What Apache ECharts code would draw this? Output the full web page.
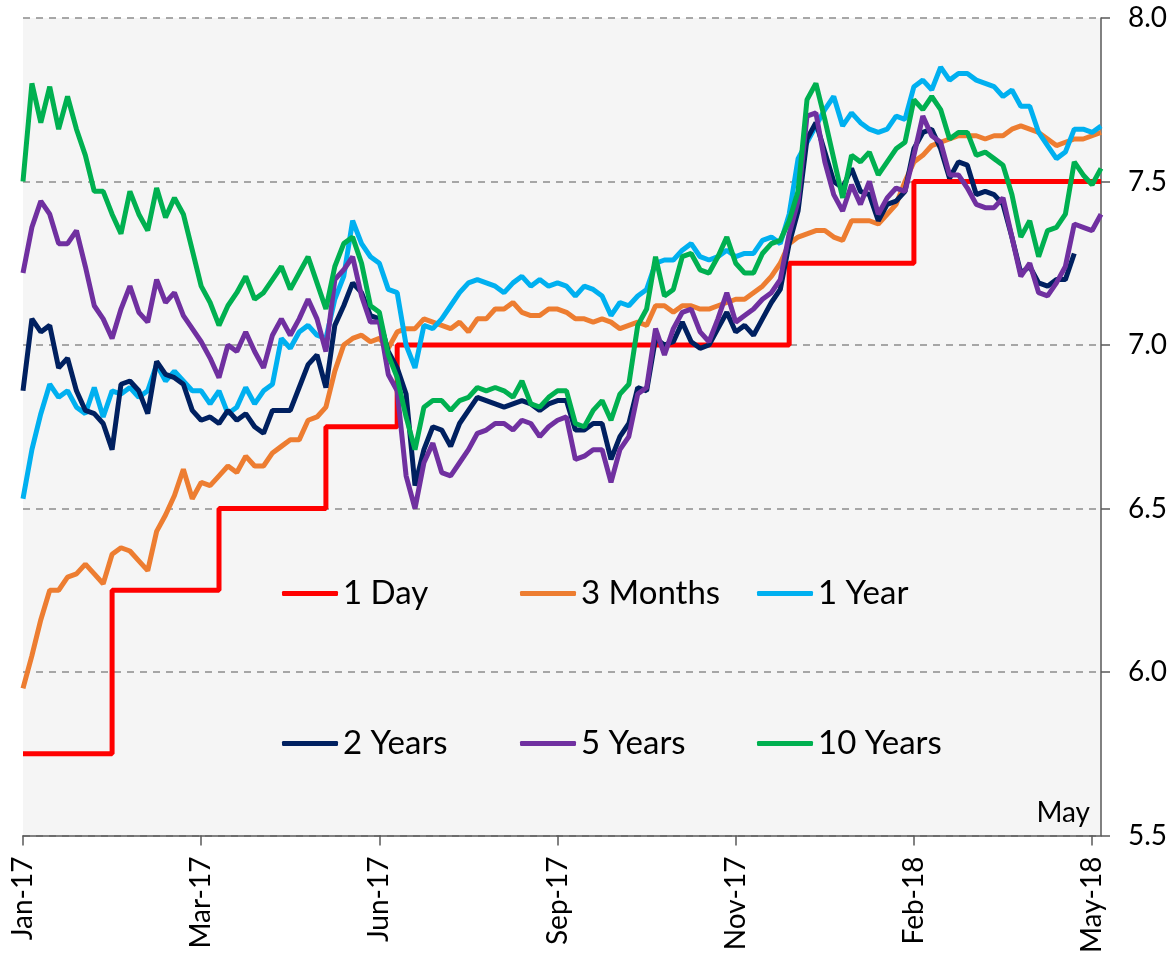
<!DOCTYPE html>
<html>
<head>
<meta charset="utf-8">
<script src="https://cdn.jsdelivr.net/npm/echarts@6/dist/echarts.min.js"></script>
<style>
  html, body { margin: 0; padding: 0; background: #fff; }
  #chart { width: 1173px; height: 956px; }
</style>
</head>
<body>
<div id="chart"></div>
<script>
// x axis: one category per sample, labelled at a few of them
const tickLabels = ["Jan-17", "Mar-17", "Jun-17", "Sep-17", "Nov-17", "Feb-18", "May-18"];
const tickIndex = [0, 20, 40, 60, 80, 100, 120];
const pointCount = 122;

const yTicks = [5.5, 6.0, 6.5, 7.0, 7.5, 8.0];

const seriesNames = ["1 Day", "3 Months", "1 Year", "2 Years", "5 Years", "10 Years"];

const oneDay = [
  5.75, 5.75, 5.75, 5.75, 5.75, 5.75, 5.75, 5.75, 5.75, 5.75,
  6.25, 6.25, 6.25, 6.25, 6.25, 6.25, 6.25, 6.25, 6.25, 6.25,
  6.25, 6.25, 6.5, 6.5, 6.5, 6.5, 6.5, 6.5, 6.5, 6.5,
  6.5, 6.5, 6.5, 6.5, 6.75, 6.75, 6.75, 6.75, 6.75, 6.75,
  6.75, 6.75, 7.0, 7.0, 7.0, 7.0, 7.0, 7.0, 7.0, 7.0,
  7.0, 7.0, 7.0, 7.0, 7.0, 7.0, 7.0, 7.0, 7.0, 7.0,
  7.0, 7.0, 7.0, 7.0, 7.0, 7.0, 7.0, 7.0, 7.0, 7.0,
  7.0, 7.0, 7.0, 7.0, 7.0, 7.0, 7.0, 7.0, 7.0, 7.0,
  7.0, 7.0, 7.0, 7.0, 7.0, 7.0, 7.25, 7.25, 7.25, 7.25,
  7.25, 7.25, 7.25, 7.25, 7.25, 7.25, 7.25, 7.25, 7.25, 7.25,
  7.5, 7.5, 7.5, 7.5, 7.5, 7.5, 7.5, 7.5, 7.5, 7.5,
  7.5, 7.5, 7.5, 7.5, 7.5, 7.5, 7.5, 7.5, 7.5, 7.5,
  7.5, 7.5
];

const threeMonths = [
  5.95, 6.05, 6.16, 6.25, 6.25, 6.29, 6.30, 6.33, 6.30, 6.27,
  6.36, 6.38, 6.37, 6.34, 6.31, 6.43, 6.48, 6.54, 6.62, 6.53,
  6.58, 6.57, 6.60, 6.63, 6.61, 6.66, 6.63, 6.63, 6.67, 6.69,
  6.71, 6.71, 6.77, 6.78, 6.81, 6.92, 7.00, 7.02, 7.03, 7.01,
  7.02, 6.99, 7.04, 7.05, 7.05, 7.08, 7.07, 7.06, 7.05, 7.07,
  7.04, 7.08, 7.08, 7.11, 7.11, 7.13, 7.10, 7.09, 7.09, 7.11,
  7.11, 7.10, 7.08, 7.08, 7.07, 7.08, 7.07, 7.05, 7.06, 7.07,
  7.06, 7.12, 7.12, 7.10, 7.12, 7.12, 7.11, 7.11, 7.12, 7.13,
  7.14, 7.14, 7.16, 7.18, 7.21, 7.25, 7.31, 7.33, 7.34, 7.35,
  7.35, 7.33, 7.32, 7.38, 7.38, 7.38, 7.37, 7.40, 7.43, 7.50,
  7.56, 7.58, 7.61, 7.62, 7.63, 7.64, 7.64, 7.64, 7.63, 7.64,
  7.64, 7.66, 7.67, 7.66, 7.65, 7.63, 7.61, 7.62, 7.63, 7.63,
  7.64, 7.65
];

const oneYear = [
  6.53, 6.68, 6.79, 6.88, 6.84, 6.86, 6.81, 6.79, 6.87, 6.78,
  6.86, 6.85, 6.87, 6.84, 6.86, 6.94, 6.89, 6.92, 6.89, 6.86,
  6.86, 6.82, 6.86, 6.79, 6.81, 6.87, 6.82, 6.86, 6.88, 7.02,
  6.99, 7.04, 7.06, 7.03, 7.02, 7.14, 7.21, 7.38, 7.31, 7.27,
  7.25, 7.17, 7.16, 7.00, 6.93, 7.06, 7.05, 7.08, 7.12, 7.16,
  7.19, 7.20, 7.19, 7.18, 7.16, 7.19, 7.21, 7.18, 7.20, 7.18,
  7.19, 7.18, 7.15, 7.18, 7.17, 7.15, 7.09, 7.13, 7.12, 7.15,
  7.17, 7.25, 7.26, 7.26, 7.29, 7.31, 7.27, 7.26, 7.27, 7.29,
  7.27, 7.28, 7.28, 7.32, 7.33, 7.31, 7.40, 7.57, 7.62, 7.67,
  7.72, 7.76, 7.67, 7.71, 7.68, 7.66, 7.65, 7.66, 7.70, 7.69,
  7.79, 7.81, 7.78, 7.85, 7.81, 7.83, 7.83, 7.81, 7.80, 7.79,
  7.76, 7.78, 7.73, 7.73, 7.65, 7.61, 7.57, 7.59, 7.66, 7.66,
  7.65, 7.67
];

const twoYears = [
  6.86, 7.08, 7.04, 7.06, 6.93, 6.96, 6.86, 6.80, 6.79, 6.76,
  6.68, 6.88, 6.89, 6.86, 6.79, 6.95, 6.91, 6.90, 6.88, 6.80,
  6.77, 6.78, 6.76, 6.80, 6.77, 6.79, 6.75, 6.73, 6.80, 6.80,
  6.80, 6.87, 6.94, 6.97, 6.87, 7.06, 7.12, 7.19, 7.16, 7.09,
  7.08, 6.98, 6.93, 6.85, 6.57, 6.68, 6.75, 6.74, 6.69, 6.76,
  6.80, 6.84, 6.83, 6.82, 6.81, 6.82, 6.83, 6.82, 6.80, 6.82,
  6.83, 6.83, 6.74, 6.74, 6.76, 6.76, 6.65, 6.72, 6.76, 6.87,
  6.86, 7.02, 7.00, 7.01, 7.07, 7.01, 6.99, 7.00, 7.05, 7.10,
  7.04, 7.06, 7.03, 7.08, 7.13, 7.17, 7.31, 7.41, 7.63, 7.68,
  7.59, 7.50, 7.48, 7.54, 7.47, 7.46, 7.38, 7.43, 7.44, 7.47,
  7.60, 7.65, 7.66, 7.60, 7.51, 7.56, 7.55, 7.46, 7.47, 7.46,
  7.43, 7.33, 7.22, 7.24, 7.19, 7.18, 7.20, 7.20, 7.28, null,
  null, null
];

const fiveYears = [
  7.22, 7.36, 7.44, 7.40, 7.31, 7.31, 7.35, 7.24, 7.12, 7.08,
  7.02, 7.11, 7.18, 7.10, 7.07, 7.20, 7.13, 7.16, 7.09, 7.05,
  7.01, 6.96, 6.90, 7.00, 6.98, 7.04, 6.98, 6.93, 7.03, 7.08,
  7.03, 7.08, 7.14, 7.08, 6.98, 7.20, 7.23, 7.27, 7.15, 7.07,
  7.07, 6.91, 6.86, 6.60, 6.50, 6.64, 6.70, 6.61, 6.60, 6.64,
  6.68, 6.73, 6.74, 6.76, 6.76, 6.74, 6.77, 6.76, 6.72, 6.75,
  6.77, 6.78, 6.65, 6.66, 6.68, 6.68, 6.58, 6.68, 6.72, 6.85,
  6.87, 7.05, 6.97, 7.05, 7.10, 7.11, 7.04, 7.01, 7.08, 7.16,
  7.07, 7.09, 7.11, 7.14, 7.16, 7.20, 7.34, 7.44, 7.70, 7.71,
  7.56, 7.46, 7.41, 7.49, 7.43, 7.50, 7.40, 7.45, 7.48, 7.47,
  7.58, 7.70, 7.64, 7.62, 7.52, 7.52, 7.48, 7.43, 7.42, 7.42,
  7.45, 7.33, 7.21, 7.25, 7.16, 7.15, 7.19, 7.24, 7.37, 7.36,
  7.35, 7.40
];

const tenYears = [
  7.50, 7.80, 7.68, 7.79, 7.66, 7.76, 7.66, 7.58, 7.47, 7.47,
  7.40, 7.34, 7.47, 7.40, 7.35, 7.48, 7.39, 7.45, 7.40, 7.29,
  7.18, 7.13, 7.06, 7.12, 7.16, 7.21, 7.14, 7.16, 7.20, 7.24,
  7.17, 7.22, 7.27, 7.19, 7.11, 7.24, 7.31, 7.33, 7.25, 7.12,
  7.10, 6.97, 6.90, 6.78, 6.68, 6.81, 6.83, 6.83, 6.80, 6.83,
  6.84, 6.87, 6.86, 6.87, 6.86, 6.84, 6.89, 6.82, 6.81, 6.84,
  6.86, 6.86, 6.76, 6.75, 6.80, 6.83, 6.77, 6.85, 6.88, 7.06,
  7.11, 7.27, 7.15, 7.17, 7.27, 7.28, 7.23, 7.22, 7.27, 7.33,
  7.25, 7.22, 7.22, 7.28, 7.31, 7.32, 7.38, 7.47, 7.75, 7.80,
  7.69, 7.57, 7.45, 7.58, 7.56, 7.59, 7.52, 7.56, 7.60, 7.62,
  7.75, 7.72, 7.76, 7.72, 7.63, 7.65, 7.65, 7.58, 7.59, 7.57,
  7.55, 7.46, 7.33, 7.38, 7.27, 7.35, 7.36, 7.40, 7.56, 7.52,
  7.49, 7.54
];

const seriesValues = [oneDay, threeMonths, oneYear, twoYears, fiveYears, tenYears];
const seriesColors = ["#FF0000", "#ED7D31", "#00B0F0", "#002060", "#7030A0", "#00B050"];

const FONT = "Lato";

const categories = [];
for (let i = 0; i < pointCount; i++) categories.push(String(i));
const labelAt = {};
tickIndex.forEach((idx, k) => { labelAt[idx] = tickLabels[k]; });
const isTick = (i) => labelAt[i] !== undefined;

// legend: two rows of three, fixed columns
const legendCols = [282, 520, 757];
const legendRows = [577, 727];
const legends = seriesNames.map((name, k) => ({
  data: [name],
  left: legendCols[k % 3],
  top: legendRows[Math.floor(k / 3)],
  padding: 0,
  icon: "roundRect",
  itemWidth: 56,
  itemHeight: 5,
  itemGap: 0,
  selectedMode: false,
  textStyle: { fontFamily: FONT, fontSize: 33, color: "#000" },
}));

const chart = echarts.init(document.getElementById("chart"));
chart.setOption({
  animation: false,
  backgroundColor: "#ffffff",
  legend: legends,
  grid: {
    left: 23,
    right: 72,
    top: 18,
    bottom: 120,
    show: true,
    backgroundColor: "#F5F5F5",
    borderWidth: 0,
  },
  xAxis: {
    type: "category",
    data: categories,
    boundaryGap: false,
    axisLine: { lineStyle: { color: "#595959", width: 1.5 } },
    axisTick: {
      interval: (i) => isTick(i),
      length: 10,
      lineStyle: { color: "#595959", width: 1.5 },
    },
    axisLabel: {
      interval: (i) => isTick(i),
      formatter: (v, i) => labelAt[i] || "",
      rotate: 90,
      margin: 21,
      fontFamily: FONT,
      fontSize: 28,
      color: "#000",
    },
    splitLine: { show: false },
  },
  yAxis: {
    type: "value",
    position: "right",
    min: yTicks[0],
    max: yTicks[yTicks.length - 1],
    interval: 0.5,
    axisLine: { show: true, lineStyle: { color: "#595959", width: 1.5 } },
    axisTick: { show: true, length: 9, lineStyle: { color: "#595959", width: 1.5 } },
    axisLabel: {
      formatter: (v) => v.toFixed(1),
      margin: 27,
      fontFamily: FONT,
      fontSize: 28,
      color: "#000",
    },
    splitLine: {
      show: true,
      lineStyle: { color: "#8C8C8C", width: 1.5, type: [7, 6] },
    },
  },
  graphic: [{
    type: "text",
    right: 83,
    top: 799,
    style: { text: "May", fontFamily: FONT, fontSize: 28, fill: "#000" },
  }],
  series: seriesNames.map((name, k) => ({
    name: name,
    type: "line",
    data: seriesValues[k],
    step: k === 0 ? "end" : false,
    symbol: "none",
    connectNulls: false,
    lineStyle: { color: seriesColors[k], width: 5 },
    itemStyle: { color: seriesColors[k] },
  })),
});
</script>
</body>
</html>
